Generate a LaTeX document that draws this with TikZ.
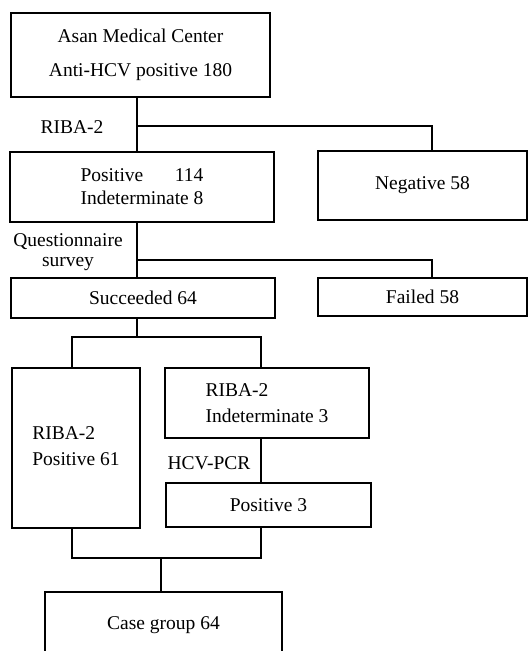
\documentclass[tikz,border=0pt]{standalone}
\usepackage{fontspec}
\usepackage{calc}
\setmainfont{Liberation Serif}
\begin{document}
\begin{tikzpicture}[x=1pt,y=-1pt,
		box/.style={draw,line width=1.3pt,rectangle,inner sep=0pt,font=\fontsize{19.5}{23}\selectfont},
		link/.style={line width=2.7pt},
		lbl/.style={inner sep=0pt,font=\fontsize{19.5}{23}\selectfont}]
			\clip (0,0) rectangle (531,651);
			\fill[white] (0,0) rectangle (531,651);
			% boxes
			\node[box,minimum width=259,minimum height=84,align=center] (asan) at (140.5,55) {Asan Medical Center\\[11pt]Anti-HCV positive 180};
			\node[box,minimum width=264,minimum height=70,align=left] (pos) at (142,187) {\makebox[\widthof{Indeterminate 8}][s]{Positive\hfill 114}\\Indeterminate 8};
			\node[box,minimum width=209,minimum height=69] (neg) at (422.5,185.5) {Negative 58};
			\node[box,minimum width=264,minimum height=40] (succ) at (143,298) {Succeeded 64};
			\node[box,minimum width=209,minimum height=38] (fail) at (422.5,297) {Failed 58};
			\node[box,minimum width=128,minimum height=160] (riba61) at (76,448) {\raisebox{8pt}{\begin{tabular}{@{}l@{}}RIBA-2\\[3pt]Positive 61\end{tabular}}};
			\node[box,minimum width=204,minimum height=70,align=left] (riba3) at (267,403) {RIBA-2\\[3pt]Indeterminate 3};
			\node[box,minimum width=205,minimum height=44] (pos3) at (268.5,505) {Positive 3};
			\node[box,minimum width=237,minimum height=66] (case) at (163.5,625) {Case group 64};
			% labels
			\node[lbl] (riba) at (72,127) {RIBA-2};
			\node[lbl,align=center,font=\fontsize{19.5}{20}\selectfont] (quest) at (68,252) {Questionnaire\\survey};
			\node[lbl] (pcr) at (209,463) {HCV-PCR};
			% connectors
			\coordinate (j1) at (137,126);
			\coordinate (j2) at (137,260);
			\coordinate (j3) at (137,337);
			\coordinate (jl) at (72,337);
			\coordinate (jr) at (261,337);
			\coordinate (j4) at (161,558);
			\draw[link] (asan.south -| j1) -- (pos.north -| j1);
			\draw[link] (j1) -| ([xshift=9.5pt]neg.north);
			\draw[link] (pos.south -| j2) -- (succ.north -| j2);
			\draw[link] (j2) -| ([xshift=9.5pt]fail.north);
			\draw[link] (succ.south -| j3) -- (j3);
			\draw[link] (riba61.north -| jl) |- (jr) -- (riba3.north -| jr);
			\draw[link] (riba3.south -| jr) -- (pos3.north -| jr);
			\draw[link] (riba61.south -| jl) |- (j4) -| (pos3.south -| jr);
			\draw[link] (j4) -- (case.north -| j4);
		\end{tikzpicture}
\end{document}
